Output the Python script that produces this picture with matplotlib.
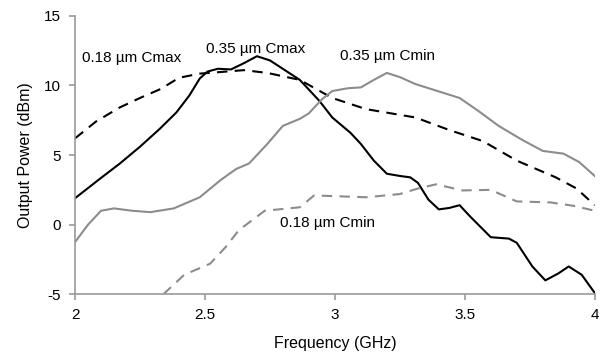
import matplotlib.pyplot as plt

plt.rcParams['font.family'] = ['Liberation Sans', 'DejaVu Sans']
plt.rcParams['axes.unicode_minus'] = False

# 0.35 um Cmax (solid black)
f_35max = [2.0, 2.096, 2.173, 2.25, 2.327, 2.39, 2.44, 2.48, 2.51, 2.55, 2.6, 2.65, 2.7, 2.75, 2.865, 2.94, 2.99,
           3.06, 3.10, 3.15, 3.20, 3.25, 3.29, 3.32, 3.36, 3.40, 3.44, 3.48, 3.52, 3.60, 3.67, 3.70,
           3.76, 3.81, 3.86, 3.90, 3.95, 4.0]
p_35max = [1.9, 3.3, 4.4, 5.6, 6.9, 8.06, 9.28, 10.5, 11.0, 11.2, 11.15, 11.6, 12.1, 11.8, 10.4, 8.9, 7.7,
           6.6, 5.8, 4.6, 3.66, 3.5, 3.4, 3.0, 1.8, 1.1, 1.2, 1.4, 0.6, -0.9, -1.0, -1.3,
           -3.0, -4.0, -3.5, -3.0, -3.6, -4.9]

# 0.18 um Cmax (dashed black)
f_18max = [2.0, 2.08, 2.17, 2.25, 2.33, 2.40, 2.48, 2.55, 2.65, 2.74, 2.865, 2.99, 3.12, 3.31, 3.44,
           3.57, 3.70, 3.85, 3.93, 4.0]
p_18max = [6.2, 7.4, 8.4, 9.1, 9.75, 10.55, 10.85, 10.95, 11.1, 10.9, 10.4, 9.1, 8.3, 7.7, 6.8,
           6.0, 4.6, 3.4, 2.6, 1.4]

# 0.35 um Cmin (solid gray)
f_35min = [2.0, 2.05, 2.1, 2.15, 2.22, 2.29, 2.38, 2.48, 2.56, 2.62, 2.67, 2.74, 2.8, 2.865, 2.9, 2.95, 2.99,
           3.05, 3.1, 3.15, 3.2, 3.25, 3.31, 3.48, 3.55, 3.63, 3.72, 3.8, 3.88, 3.94, 4.0]
p_35min = [-1.25, 0.0, 1.0, 1.17, 1.0, 0.9, 1.17, 1.97, 3.2, 4.0, 4.4, 5.8, 7.1, 7.6, 8.0, 9.0, 9.6,
           9.8, 9.86, 10.4, 10.9, 10.6, 10.1, 9.1, 8.2, 7.1, 6.1, 5.3, 5.1, 4.5, 3.5]

# 0.18 um Cmin (dashed gray)
f_18min = [2.34, 2.42, 2.52, 2.58, 2.63, 2.73, 2.865, 2.92, 3.12, 3.25, 3.32, 3.39, 3.49, 3.6, 3.7,
           3.83, 3.92, 4.0]
p_18min = [-5.0, -3.6, -2.8, -1.6, -0.4, 1.0, 1.25, 2.1, 1.97, 2.2, 2.6, 2.9, 2.46, 2.5, 1.67,
           1.6, 1.35, 1.0]

fig = plt.figure(figsize=(6.05, 3.6), dpi=100)
ax = fig.add_axes([0.124, 0.1825, 0.859, 0.7735])

ax.plot(f_35max, p_35max, color='black', lw=1.5)
ax.plot(f_18max, p_18max, color='black', lw=1.5, dashes=(5, 3.5))
ax.plot(f_35min, p_35min, color='#8c8c8c', lw=1.5)
ax.plot(f_18min, p_18min, color='#8c8c8c', lw=1.5, dashes=(5, 3.5))

ax.text(2.027, 12.0, '0.18 µm Cmax', fontsize=11, va='center')
ax.text(2.504, 12.65, '0.35 µm Cmax', fontsize=11, va='center')
ax.text(3.02, 12.1, '0.35 µm Cmin', fontsize=11, va='center')
ax.text(2.79, 0.1, '0.18 µm Cmin', fontsize=11, va='center')

ax.set_xlim(2, 4)
ax.set_ylim(-5, 15)
ax.set_xticks([2, 2.5, 3, 3.5, 4])
ax.set_xticklabels(['2', '2.5', '3', '3.5', '4'])
ax.set_yticks([-5, 0, 5, 10, 15])
ax.set_xlabel('Frequency (GHz)', fontsize=11.5, labelpad=10)
ax.set_ylabel('Output Power (dBm)', fontsize=11.5, labelpad=8)

for s in ['top', 'right']:
    ax.spines[s].set_visible(False)
for s in ['left', 'bottom']:
    ax.spines[s].set_color('#9a9a9a')
    ax.spines[s].set_linewidth(1.2)
ax.tick_params(colors='#9a9a9a', labelcolor='black', labelsize=11, length=4, width=1.2, pad=6)

fig.savefig('out.png', dpi=100)
